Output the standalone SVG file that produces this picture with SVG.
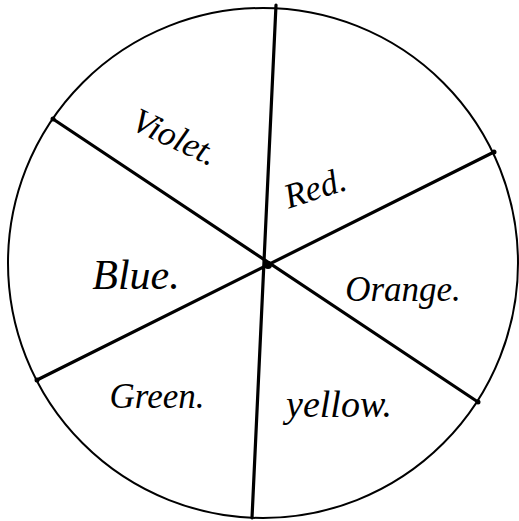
<svg xmlns="http://www.w3.org/2000/svg" width="519" height="521" viewBox="0 0 519 521">
  <style>
    .rim { fill: #ffffff; stroke: #000000; stroke-width: 2; }
    .spoke { stroke: #000000; stroke-width: 3.2; stroke-linecap: round; fill: none; }
    .dot { fill: #000000; }
    .lbl { font-family: "Liberation Serif", "DejaVu Serif", serif; font-style: italic; font-size: 35px; fill: #000000; text-anchor: middle; dominant-baseline: central; }
  </style>
  <rect width="519" height="521" fill="#ffffff"/>
  <g id="wheel">
    <circle class="rim" cx="263" cy="263" r="255"/>
  </g>
  <g id="connectors">
    <line class="spoke" x1="276" y1="5" x2="252" y2="518"/>
    <line class="spoke" x1="53" y1="119" x2="478" y2="402"/>
    <line class="spoke" x1="494" y1="152" x2="37" y2="380"/>
    <circle class="dot" cx="268" cy="265" r="4"/>
    <circle class="dot" cx="53" cy="119" r="2.5"/>
    <circle class="dot" cx="494" cy="152" r="2.5"/>
    <circle class="dot" cx="478" cy="402" r="2.5"/>
    <circle class="dot" cx="37" cy="380" r="2.5"/>
  </g>
  <g id="violet"><text class="lbl" transform="translate(175,137) rotate(25)">Violet.</text></g>
  <g id="red"><text class="lbl" transform="translate(315,188) rotate(-18)">Red.</text></g>
  <g id="blue"><text class="lbl" x="136" y="275" style="font-size:42px">Blue.</text></g>
  <g id="orange"><text class="lbl" x="403" y="289">Orange.</text></g>
  <g id="green"><text class="lbl" x="157" y="396">Green.</text></g>
  <g id="yellow"><text class="lbl" x="339" y="404" style="font-size:38px">yellow.</text></g>
</svg>
